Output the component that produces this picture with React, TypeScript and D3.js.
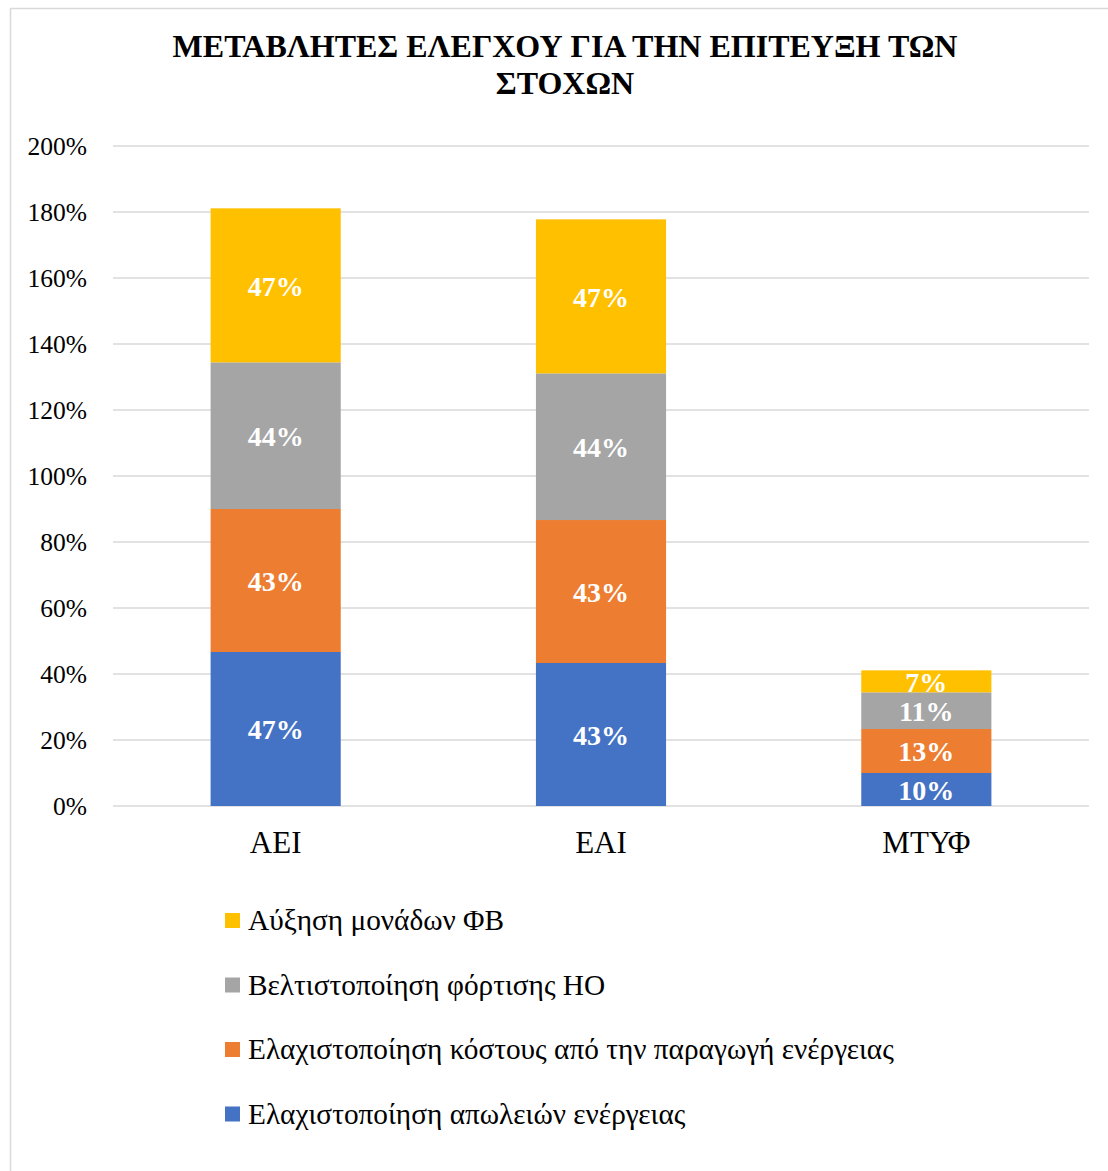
import React from "react";
import * as d3 from "d3";

const categories = ["ΑΕΙ", "ΕΑΙ", "ΜΤΥΦ"];
const seriesNames = [
  "Ελαχιστοποίηση απωλειών ενέργειας",
  "Ελαχιστοποίηση κόστους από την παραγωγή ενέργειας",
  "Βελτιστοποίηση φόρτισης ΗΟ",
  "Αύξηση μονάδων ΦΒ",
];
const seriesColors = ["#4472C4", "#ED7D31", "#A5A5A5", "#FFC000"];
const lossValues = [0.4667, 0.4333, 0.1];
const costValues = [0.4333, 0.4333, 0.1333];
const chargeValues = [0.4444, 0.4444, 0.1111];
const pvValues = [0.4667, 0.4667, 0.0667];
const yTicks = [0, 0.2, 0.4, 0.6, 0.8, 1.0, 1.2, 1.4, 1.6, 1.8, 2.0];
const titleLines = ["ΜΕΤΑΒΛΗΤΕΣ ΕΛΕΓΧΟΥ ΓΙΑ ΤΗΝ ΕΠΙΤΕΥΞΗ ΤΩΝ", "ΣΤΟΧΩΝ"];

const W = 1108;
const H = 1171;
const FONT = "'Liberation Serif', 'Times New Roman', serif";

export default function App() {
  const seriesValues = [lossValues, costValues, chargeValues, pvValues];
  const rows = categories.map((c, i) => {
    const r: any = { cat: c };
    seriesNames.forEach((s, j) => (r[s] = seriesValues[j][i]));
    return r;
  });
  const stack = d3.stack<any>().keys(seriesNames)(rows);

  const x = d3
    .scaleBand<string>()
    .domain(categories)
    .range([113, 1089])
    .paddingInner(0.6)
    .paddingOuter(0.3);
  const y = d3.scaleLinear().domain([0, 2]).range([806, 146]);
  const fmt = d3.format(".0%");

  const legendOrder = [3, 2, 1, 0];

  return (
    <svg
      width={W}
      height={H}
      style={{ position: "absolute", left: 0, top: 0, background: "#fff", fontFamily: FONT }}
    >
      <rect x={0} y={0} width={W} height={H} fill="#fff" />
      <rect
        x={10.5}
        y={8.5}
        width={W + 20}
        height={H + 20}
        fill="none"
        stroke="#D9D9D9"
        strokeWidth={1.5}
      />
      {titleLines.map((t, i) => (
        <text
          key={i}
          x={565}
          y={57 + i * 37}
          textAnchor="middle"
          fontSize={32}
          fontWeight="bold"
          fill="#000"
        >
          {t}
        </text>
      ))}
      {yTicks.map((t) => (
        <g key={t}>
          <line
            x1={113}
            x2={1089}
            y1={y(t)}
            y2={y(t)}
            stroke="#D9D9D9"
            strokeWidth={1.5}
          />
          <text
            x={87}
            y={y(t)}
            dy="0.34em"
            textAnchor="end"
            fontSize={25.5}
            fill="#000"
          >
            {fmt(t)}
          </text>
        </g>
      ))}
      {stack.map((layer, j) => (
        <g key={layer.key} fill={seriesColors[j]}>
          {layer.map((d: any, i: number) => (
            <rect
              key={i}
              x={x(d.data.cat)}
              y={y(d[1])}
              width={x.bandwidth()}
              height={y(d[0]) - y(d[1])}
            />
          ))}
        </g>
      ))}
      {stack.map((layer, j) => (
        <g key={layer.key + "l"}>
          {layer.map((d: any, i: number) => (
            <text
              key={i}
              x={(x(d.data.cat) as number) + x.bandwidth() / 2}
              y={(y(d[0]) + y(d[1])) / 2}
              dy="0.37em"
              textAnchor="middle"
              fontSize={28}
              fontWeight="bold"
              fill="#fff"
            >
              {fmt(d[1] - d[0])}
            </text>
          ))}
        </g>
      ))}
      {categories.map((c) => (
        <text
          key={c}
          x={(x(c) as number) + x.bandwidth() / 2}
          y={853}
          textAnchor="middle"
          fontSize={31}
          fill="#000"
        >
          {c}
        </text>
      ))}
      {legendOrder.map((j, k) => (
        <g key={j} transform={`translate(225, ${920 + k * 64.5})`}>
          <rect x={0} y={-7} width={15} height={15} fill={seriesColors[j]} />
          <text x={23} y={0} dy="0.35em" fontSize={29.3} fill="#000">
            {seriesNames[j]}
          </text>
        </g>
      ))}
    </svg>
  );
}
